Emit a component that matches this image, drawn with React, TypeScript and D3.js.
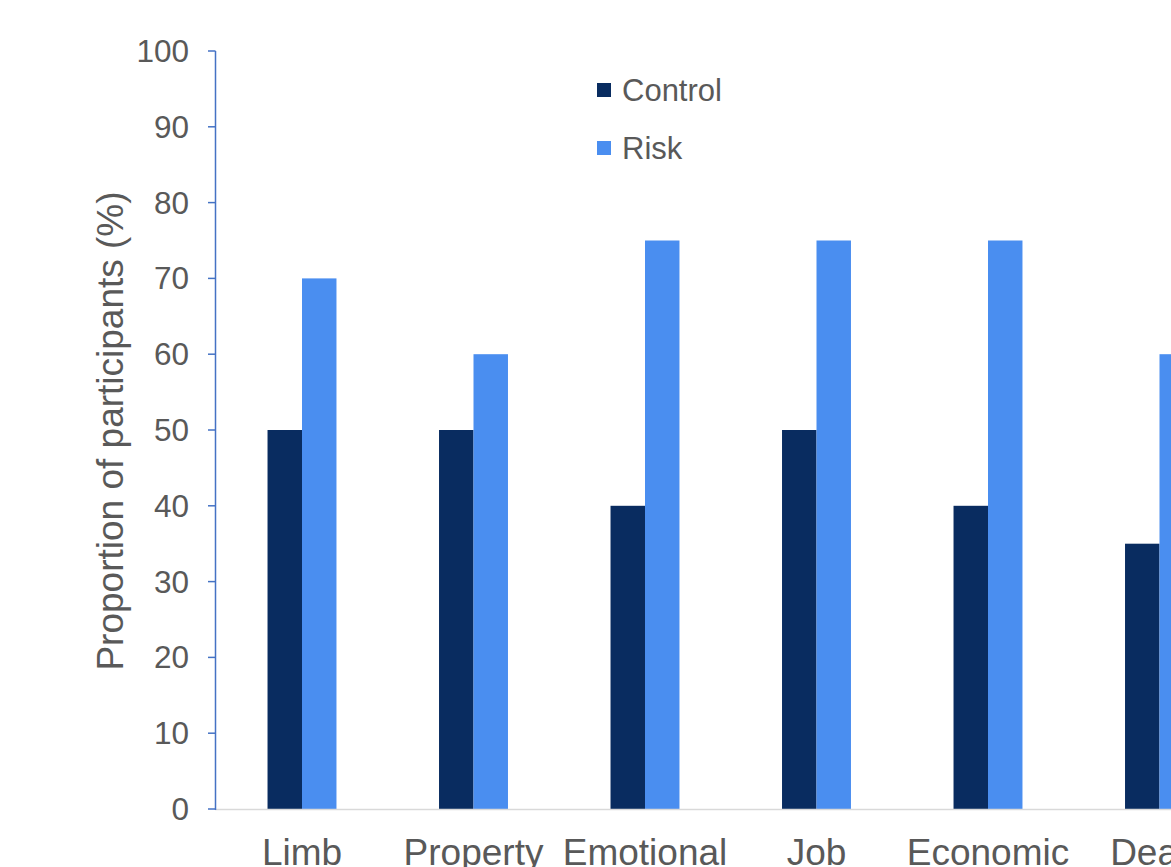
import React from 'react';
import * as d3 from 'd3';

// values
const categories = ['Limb', 'Property', 'Emotional', 'Job', 'Economic', 'Death'];
const series = ['Control', 'Risk'];
const controlValues = [50, 50, 40, 50, 40, 35];
const riskValues = [70, 60, 75, 75, 75, 60];
const yTicks = [0, 10, 20, 30, 40, 50, 60, 70, 80, 90, 100];

const colors: Record<string, string> = { Control: '#092C60', Risk: '#4A8EF0' };

const App = () => {
  const width = 1171;
  const height = 867;
  const font = 'Arial, "Liberation Sans", sans-serif';
  const textColor = '#595959';

  const y = d3.scaleLinear().domain([0, 100]).range([809, 51]);
  const x = d3.scaleBand<string>()
    .domain(categories)
    .range([216.25, 216.25 + 171.5 * categories.length])
    .paddingInner(0.598)
    .paddingOuter(0.299);
  const xInner = d3.scaleBand<string>().domain(series).range([0, x.bandwidth()]);

  const values: Record<string, number[]> = { Control: controlValues, Risk: riskValues };

  return (
    <svg width={width} height={height} style={{ position: 'absolute', left: 0, top: 0 }}>
      {/* bars */}
      {categories.map((c, i) => (
        <g key={c} transform={`translate(${x(c)},0)`}>
          {series.map((s) => (
            <rect
              key={s}
              x={xInner(s)}
              y={y(values[s][i])}
              width={xInner.bandwidth()}
              height={y(0) - y(values[s][i])}
              fill={colors[s]}
            />
          ))}
        </g>
      ))}

      {/* x baseline */}
      <line x1={215} x2={width} y1={y(0) + 0.5} y2={y(0) + 0.5} stroke="#D9D9D9" strokeWidth={1.5} />

      {/* y axis */}
      <line x1={215.5} x2={215.5} y1={y(100)} y2={y(0) + 1} stroke="#4472C4" strokeWidth={1.5} />
      {yTicks.map((t) => (
        <g key={t}>
          <line x1={208} x2={215.5} y1={y(t)} y2={y(t)} stroke="#4472C4" strokeWidth={1.5} />
          <text
            x={189}
            y={y(t)}
            textAnchor="end"
            dominantBaseline="central"
            fontFamily={font}
            fontSize={31.5}
            fill={textColor}
          >
            {t}
          </text>
        </g>
      ))}

      {/* y title */}
      <text
        transform={`translate(110,${431}) rotate(-90)`}
        textAnchor="middle"
        dominantBaseline="central"
        fontFamily={font}
        fontSize={37}
        fill={textColor}
      >
        Proportion of participants (%)
      </text>

      {/* x labels */}
      {categories.map((c) => (
        <text
          key={c}
          x={(x(c) ?? 0) + x.bandwidth() / 2}
          y={865}
          textAnchor="middle"
          fontFamily={font}
          fontSize={37}
          fill={textColor}
        >
          {c}
        </text>
      ))}

      {/* legend */}
      {series.map((s, i) => (
        <g key={s} transform={`translate(597,${83 + i * 58})`}>
          <rect width={14} height={14} fill={colors[s]} />
          <text x={25} y={7} dominantBaseline="central" fontFamily={font} fontSize={31} fill={textColor}>
            {s}
          </text>
        </g>
      ))}
    </svg>
  );
};

export default App;
